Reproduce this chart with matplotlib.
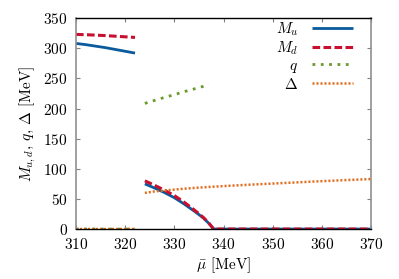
import numpy as np
import matplotlib
matplotlib.use("Agg")
import matplotlib.pyplot as plt

plt.rcParams['font.family'] = ['cmr10', 'DejaVu Serif']
plt.rcParams['mathtext.fontset'] = 'cm'
plt.rcParams['axes.formatter.use_mathtext'] = True

nan = np.nan
mu_bar = [310, 312, 314, 316, 318, 320, 322, nan,
          324, 326, 328, 330, 332, 334, 335, 336, 337, 338,
          340, 345, 350, 355, 360, 365, 370]
M_u = [308, 306, 303.5, 301, 298, 295, 292, nan,
       75, 68, 60.5, 52, 41.5, 30, 24, 17.5, 9.5, 0,
       0, 0, 0, 0, 0, 0, 0]
M_d = [323, 322.5, 321.8, 321, 320, 319, 318, nan,
       80, 72.5, 64.5, 55.5, 44.5, 32, 25.5, 18.5, 10, 0,
       0, 0, 0, 0, 0, 0, 0]
q = [0, 0, 0, 0, 0, 0, 0, nan,
     208.5, 213.5, 218.5, 223, 228, 232.5, 234.8, 237, 240, nan,
     nan, nan, nan, nan, nan, nan, nan]
Delta = [0, 0, 0, 0, 0, 0, 0, nan,
         60, 62.5, 64, 65.5, 67, 68.2, 68.8, 69.3, 69.8, 70.3,
         71.3, 73.5, 75.5, 77.5, 79.5, 81.3, 83]

x_ticks = [310, 320, 330, 340, 350, 360, 370]
y_ticks = [0, 50, 100, 150, 200, 250, 300, 350]

fig = plt.figure(figsize=(3.99, 2.79), dpi=100)
ax = fig.add_axes([0.1905, 0.179, 0.7395, 0.756])

ax.plot(mu_bar, M_u, color='#0a5a9c', lw=2.0, solid_capstyle='butt', label=r'$M_u$')
ax.plot(mu_bar, M_d, color='#c8102e', lw=2.2, dashes=(2.5, 1.1), dash_capstyle='butt', label=r'$M_d$')
ax.plot(mu_bar, q, color='#6a9a2a', lw=2.0, dashes=(1, 2), dash_capstyle='butt', label=r'$q$')
ax.plot(mu_bar, Delta, color='#e06c1c', lw=1.8, dashes=(0.8, 0.8), dash_capstyle='butt', label=r'$\Delta$')

ax.set_xlim(310, 370)
ax.set_ylim(0, 350)
ax.set_xticks(x_ticks)
ax.set_yticks(y_ticks)
ax.tick_params(direction='in', length=3, width=0.8, color='#808080',
               top=True, right=True, labelsize=11, pad=6)

for s in ['left', 'right']:
    ax.spines[s].set_color('#909090')
    ax.spines[s].set_linewidth(1.2)
for s in ['top', 'bottom']:
    ax.spines[s].set_color('black')
    ax.spines[s].set_linewidth(1.0)

ax.set_xlabel(r'$\bar{\mu}$ [MeV]', fontsize=11, labelpad=2)
ax.set_ylabel(r'$M_{u,d},\, q,\, \Delta$ [MeV]', fontsize=11, labelpad=4)

leg = ax.legend(loc='upper right', bbox_to_anchor=(0.94, 0.99), markerfirst=False,
                frameon=False, fontsize=11, handlelength=2.7, handletextpad=0.9,
                labelspacing=0.12, borderaxespad=0.0, borderpad=0.0)
for t in leg.get_texts():
    t.set_ha('right')

fig.savefig('out.png', dpi=100)
